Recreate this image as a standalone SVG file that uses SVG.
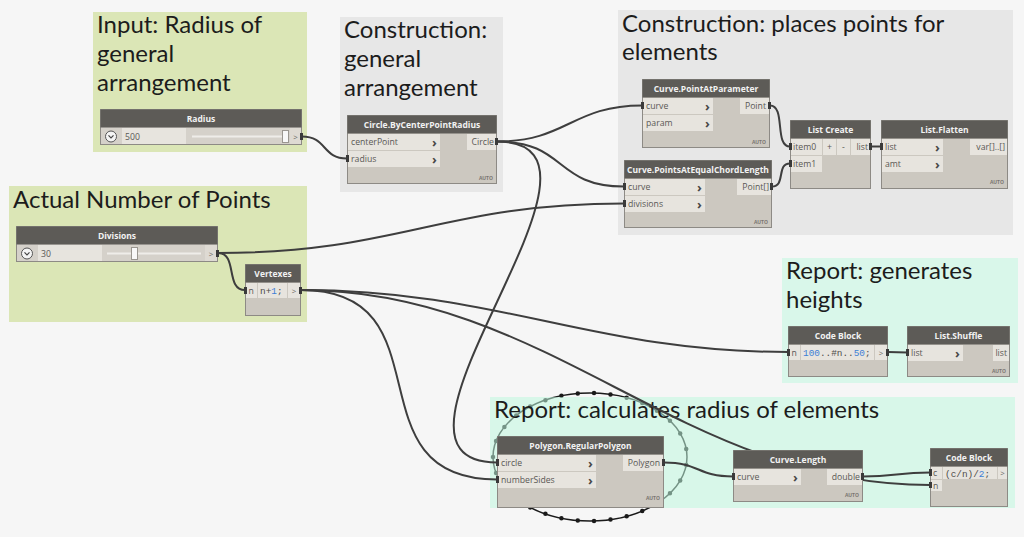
<svg xmlns="http://www.w3.org/2000/svg" width="1024" height="537" viewBox="0 0 1024 537">
<style>
.bg{fill:#f6f6f6}
.gg{fill:#dbe6b6}
.gy{fill:#e7e7e7}
.gm{fill:#d9f7ea}
.gt{font:24px Lato,"Open Sans",sans-serif;fill:#1c1c1c}
.body{fill:#ccc8c0;stroke:#8d8a85;stroke-width:1}
.sbody{fill:#d5d1ca;stroke:#8d8a85;stroke-width:1}
.hdr{fill:#5d5b57}
.ttl{font:bold 8.5px "Open Sans",sans-serif;fill:#f2f2f2;text-anchor:middle}
.port{fill:#e7e4de}
.lbl{font:8.7px "Open Sans",sans-serif;fill:#5a5855}
.end{text-anchor:end}
.chev{font:bold 13px "Open Sans",sans-serif;fill:#4a4846}
.auto{font:bold 5px "Open Sans",sans-serif;fill:#7a7672;text-anchor:end}
.code{font:9.4px "Liberation Mono",monospace;fill:#4e4c4a}
.num{fill:#3d7fd6}
.gtb{font:8px "Open Sans",sans-serif;fill:#6a6864;text-anchor:middle}
.wire{fill:none;stroke:#3e3e3e;stroke-width:2}
.nub{fill:#3a3a3a}
.btn{fill:#f4f4f4;stroke:#555;stroke-width:1}
.ico{fill:none;stroke:#444;stroke-width:1.2}
.track{stroke:#efede9;stroke-width:2}
.thumb{fill:#f8f8f8;stroke:#9a9690;stroke-width:1}
.sbox{fill:#dedad3}
</style>
<rect class="bg" x="0" y="0" width="1024" height="537"/>

<!-- background geometry preview -->
<g id="preview-polygon">
<path d="M493,457 A97,64 0 1,0 687,457 A97,64 0 1,0 493,457 Z" fill="none" stroke="#1a1a1a" stroke-width="1.5"/>
<path d="M493,457 A97,64 0 1,0 687,457 A97,64 0 1,0 493,457 Z" pathLength="31" fill="none" stroke="#1a1a1a" stroke-width="4.5" stroke-linecap="round" stroke-dasharray="0 1"/>
</g>

<!-- groups -->
<g id="group-input-radius">
<rect class="gg" x="93" y="12" width="214" height="140"/>
<text class="gt" x="97" y="33">Input: Radius of</text>
<text class="gt" x="97" y="62">general</text>
<text class="gt" x="97" y="91">arrangement</text>
</g>
<g id="group-construction-general">
<rect class="gy" x="340" y="17" width="163" height="175"/>
<text class="gt" x="344" y="38">Construction:</text>
<text class="gt" x="344" y="67">general</text>
<text class="gt" x="344" y="96">arrangement</text>
</g>
<g id="group-construction-points">
<rect class="gy" x="618" y="10" width="395" height="225"/>
<text class="gt" x="622" y="32">Construction: places points for</text>
<text class="gt" x="622" y="60">elements</text>
</g>
<g id="group-number-points">
<rect class="gg" x="9" y="186" width="298" height="136"/>
<text class="gt" x="13" y="208">Actual Number of Points</text>
</g>
<g id="group-report-heights">
<rect class="gm" x="782" y="258" width="236" height="125"/>
<text class="gt" x="786" y="279">Report: generates</text>
<text class="gt" x="786" y="308">heights</text>
</g>
<g id="group-report-radius">
<rect x="490" y="397" width="525" height="111" fill="#bff8de" fill-opacity="0.55"/>
<text class="gt" x="494" y="418">Report: calculates radius of elements</text>
</g>

<!-- connectors -->
<g id="connectors">
<path class="wire" d="M302,136.5 C327,136.5 322,158.5 347,158.5"/>
<path class="wire" d="M497,141.5 C567,141.5 572,105.5 642,105.5"/>
<path class="wire" d="M497,141.5 C567,141.5 554,186.5 624,186.5"/>
<path class="wire" d="M497,141.5 C647,141.5 347,462.5 497,462.5"/>
<path class="wire" d="M770,105.5 C786,105.5 774,146.5 790,146.5"/>
<path class="wire" d="M772,186.5 C786,186.5 776,163.5 790,163.5"/>
<path class="wire" d="M871,146.5 L881,146.5"/>
<path class="wire" d="M218,253 C400,253 442,203.5 624,203.5"/>
<path class="wire" d="M218,253 C238,253 225,290 245,290"/>
<path class="wire" d="M301,290 C500,290 590,352 788,352"/>
<path class="wire" d="M301,290 C451,290 347,479.5 497,479.5"/>
<path class="wire" d="M301,290 C551,290 680,485 930,485"/>
<path class="wire" d="M888,352 L907,352.5"/>
<path class="wire" d="M664,462.5 C700,462.5 697,476.5 733,476.5"/>
<path class="wire" d="M863,476.5 C896,476.5 897,472.5 930,472.5"/>
</g>

<!-- nodes -->
<g id="radius">
<rect class="sbody" x="100.5" y="109.5" width="201" height="35"/>
<rect class="hdr" x="100.5" y="109.5" width="201" height="18"/>
<text class="ttl" x="201" y="121.5">Radius</text>
<circle class="btn" cx="111" cy="136.5" r="5.5"/>
<polyline class="ico" points="108.5,135.3 111,137.8 113.5,135.3"/>
<rect class="port" x="122" y="128" width="64" height="16"/>
<text class="lbl" x="125" y="139.5" font-style="italic" fill="#333">500</text>
<line class="track" x1="192" y1="136.5" x2="284" y2="136.5"/>
<rect class="thumb" x="282.5" y="130.5" width="6" height="12"/>
<rect class="sbox" x="290" y="128" width="11" height="16"/>
<text class="gtb" x="295.5" y="139.5">&gt;</text>
<rect class="nub" x="300" y="133" width="3" height="7"/>
</g>

<g id="circle-by-center-point-radius">
<rect class="body" x="347.5" y="115.5" width="149" height="68"/>
<rect class="hdr" x="347.5" y="115.5" width="149" height="18"/>
<text class="ttl" x="422" y="127.5">Circle.ByCenterPointRadius</text>
<rect class="port" x="348" y="134" width="92" height="16"/>
<text class="lbl" x="351" y="145">centerPoint</text>
<text class="chev" x="432" y="146.5">›</text>
<rect class="port" x="348" y="151" width="92" height="16"/>
<text class="lbl" x="351" y="162">radius</text>
<text class="chev" x="432" y="163.5">›</text>
<rect class="port" x="467" y="134" width="29" height="16"/>
<text class="lbl end" x="494" y="145">Circle</text>
<text class="auto" x="493" y="180">AUTO</text>
<rect class="nub" x="346" y="155" width="3" height="7"/>
<rect class="nub" x="495" y="138" width="3" height="7"/>
</g>

<g id="curve-point-at-parameter">
<rect class="body" x="642.5" y="79.5" width="127" height="68"/>
<rect class="hdr" x="642.5" y="79.5" width="127" height="18"/>
<text class="ttl" x="706" y="91.5">Curve.PointAtParameter</text>
<rect class="port" x="643" y="98" width="70" height="16"/>
<text class="lbl" x="646" y="109">curve</text>
<text class="chev" x="705" y="110.5">›</text>
<rect class="port" x="643" y="115" width="70" height="16"/>
<text class="lbl" x="646" y="126">param</text>
<text class="chev" x="705" y="127.5">›</text>
<rect class="port" x="740" y="98" width="29" height="16"/>
<text class="lbl end" x="766" y="109">Point</text>
<text class="auto" x="766" y="144">AUTO</text>
<rect class="nub" x="641" y="102" width="3" height="7"/>
<rect class="nub" x="768" y="102" width="3" height="7"/>
</g>

<g id="curve-points-at-equal-chord-length">
<rect class="body" x="624.5" y="160.5" width="147" height="67"/>
<rect class="hdr" x="624.5" y="160.5" width="147" height="18"/>
<text class="ttl" x="698" y="172.5">Curve.PointsAtEqualChordLength</text>
<rect class="port" x="625" y="179" width="80" height="16"/>
<text class="lbl" x="628" y="190">curve</text>
<text class="chev" x="697" y="191.5">›</text>
<rect class="port" x="625" y="196" width="80" height="16"/>
<text class="lbl" x="628" y="207">divisions</text>
<text class="chev" x="697" y="208.5">›</text>
<rect class="port" x="737" y="179" width="34" height="16"/>
<text class="lbl end" x="769" y="190">Point[]</text>
<text class="auto" x="768" y="224">AUTO</text>
<rect class="nub" x="623" y="183" width="3" height="7"/>
<rect class="nub" x="623" y="200" width="3" height="7"/>
<rect class="nub" x="770" y="183" width="3" height="7"/>
</g>

<g id="list-create">
<rect class="body" x="790.5" y="120.5" width="80" height="68"/>
<rect class="hdr" x="790.5" y="120.5" width="80" height="18"/>
<text class="ttl" x="830.5" y="132.5">List Create</text>
<rect class="port" x="791" y="139" width="31" height="16"/>
<text class="lbl" x="793" y="150">item0</text>
<rect class="port" x="823" y="139" width="13" height="16"/>
<text class="lbl" x="829.5" y="149.5" text-anchor="middle" font-weight="bold">+</text>
<rect class="port" x="837" y="139" width="13" height="16"/>
<text class="lbl" x="843.5" y="149.5" text-anchor="middle" font-weight="bold">-</text>
<rect class="port" x="851" y="139" width="19" height="16"/>
<text class="lbl end" x="868" y="150">list</text>
<rect class="port" x="791" y="156" width="31" height="16"/>
<text class="lbl" x="793" y="167">item1</text>
<rect class="nub" x="789" y="143" width="3" height="7"/>
<rect class="nub" x="789" y="160" width="3" height="7"/>
<rect class="nub" x="869" y="143" width="3" height="7"/>
</g>

<g id="list-flatten">
<rect class="body" x="881.5" y="120.5" width="126" height="68"/>
<rect class="hdr" x="881.5" y="120.5" width="126" height="18"/>
<text class="ttl" x="944.5" y="132.5">List.Flatten</text>
<rect class="port" x="882" y="139" width="61" height="16"/>
<text class="lbl" x="885" y="150">list</text>
<text class="chev" x="935" y="151.5">›</text>
<rect class="port" x="882" y="156" width="61" height="16"/>
<text class="lbl" x="885" y="167">amt</text>
<text class="chev" x="935" y="168.5">›</text>
<rect class="port" x="970" y="139" width="37" height="16"/>
<text class="lbl end" x="1005" y="150">var[]..[]</text>
<text class="auto" x="1004" y="184">AUTO</text>
<rect class="nub" x="880" y="143" width="3" height="7"/>
</g>

<g id="divisions">
<rect class="sbody" x="16.5" y="226.5" width="201" height="35"/>
<rect class="hdr" x="16.5" y="226.5" width="201" height="18"/>
<text class="ttl" x="117" y="238.5">Divisions</text>
<circle class="btn" cx="27" cy="253.5" r="5.5"/>
<polyline class="ico" points="24.5,252.3 27,254.8 29.5,252.3"/>
<rect class="port" x="38" y="245" width="64" height="16"/>
<text class="lbl" x="41" y="256.5" fill="#333">30</text>
<line class="track" x1="107" y1="253.5" x2="201" y2="253.5"/>
<rect class="thumb" x="131.5" y="247.5" width="6" height="12"/>
<rect class="sbox" x="205" y="245" width="12" height="16"/>
<text class="gtb" x="211" y="256.5">&gt;</text>
<rect class="nub" x="216" y="250" width="3" height="7"/>
</g>

<g id="vertexes">
<rect class="body" x="245.5" y="264.5" width="55" height="51"/>
<rect class="hdr" x="245.5" y="264.5" width="55" height="18"/>
<text class="ttl" x="273" y="276.5">Vertexes</text>
<rect class="port" x="246" y="283" width="11" height="15"/>
<text class="lbl" x="248.5" y="293.5">n</text>
<rect class="port" x="258" y="283" width="29" height="15"/>
<text class="code" x="260" y="293.5">n+<tspan class="num">1</tspan>;</text>
<rect class="port" x="288" y="283" width="12" height="15"/>
<text class="gtb" x="294" y="293.5">&gt;</text>
<rect class="nub" x="244" y="287" width="3" height="7"/>
<rect class="nub" x="299" y="287" width="3" height="7"/>
</g>

<g id="code-block-heights">
<rect class="body" x="788.5" y="326.5" width="99" height="50"/>
<rect class="hdr" x="788.5" y="326.5" width="99" height="18"/>
<text class="ttl" x="838" y="338.5">Code Block</text>
<rect class="port" x="789" y="345" width="11" height="15"/>
<text class="lbl" x="791.5" y="355.5">n</text>
<rect class="port" x="801" y="345" width="73" height="15"/>
<text class="code" x="803" y="355.5"><tspan class="num">100</tspan>..#n..<tspan class="num">50</tspan>;</text>
<rect class="port" x="875" y="345" width="12" height="15"/>
<text class="gtb" x="881" y="355.5">&gt;</text>
<rect class="nub" x="787" y="349" width="3" height="7"/>
<rect class="nub" x="886" y="349" width="3" height="7"/>
</g>

<g id="list-shuffle">
<rect class="body" x="907.5" y="326.5" width="102" height="50"/>
<rect class="hdr" x="907.5" y="326.5" width="102" height="18"/>
<text class="ttl" x="958.5" y="338.5">List.Shuffle</text>
<rect class="port" x="908" y="345" width="55" height="16"/>
<text class="lbl" x="911" y="356">list</text>
<text class="chev" x="955" y="357.5">›</text>
<rect class="port" x="993" y="345" width="16" height="16"/>
<text class="lbl end" x="1007" y="356">list</text>
<text class="auto" x="1006" y="373">AUTO</text>
<rect class="nub" x="906" y="349" width="3" height="7"/>
</g>

<g id="polygon-regular-polygon">
<rect class="body" x="497.5" y="436.5" width="166" height="71"/>
<rect class="hdr" x="497.5" y="436.5" width="166" height="18"/>
<text class="ttl" x="580.5" y="448.5">Polygon.RegularPolygon</text>
<rect class="port" x="498" y="455" width="98" height="16"/>
<text class="lbl" x="501" y="466">circle</text>
<text class="chev" x="588" y="467.5">›</text>
<rect class="port" x="498" y="472" width="98" height="16"/>
<text class="lbl" x="501" y="483">numberSides</text>
<text class="chev" x="588" y="484.5">›</text>
<rect class="port" x="623" y="455" width="40" height="16"/>
<text class="lbl end" x="660" y="466">Polygon</text>
<text class="auto" x="660" y="500">AUTO</text>
<rect class="nub" x="496" y="459" width="3" height="7"/>
<rect class="nub" x="496" y="476" width="3" height="7"/>
<rect class="nub" x="662" y="459" width="3" height="7"/>
</g>

<g id="curve-length">
<rect class="body" x="733.5" y="450.5" width="129" height="51"/>
<rect class="hdr" x="733.5" y="450.5" width="129" height="18"/>
<text class="ttl" x="798" y="462.5">Curve.Length</text>
<rect class="port" x="734" y="469" width="67" height="16"/>
<text class="lbl" x="737" y="480">curve</text>
<text class="chev" x="793" y="481.5">›</text>
<rect class="port" x="827" y="469" width="35" height="16"/>
<text class="lbl end" x="860" y="480">double</text>
<text class="auto" x="859" y="497">AUTO</text>
<rect class="nub" x="732" y="473" width="3" height="7"/>
<rect class="nub" x="861" y="473" width="3" height="7"/>
</g>

<g id="code-block-radius">
<rect class="body" x="930.5" y="448.5" width="77" height="58"/>
<rect class="hdr" x="930.5" y="448.5" width="77" height="18"/>
<text class="ttl" x="969" y="460.5">Code Block</text>
<rect class="port" x="931" y="467" width="11" height="12"/>
<text class="lbl" x="933" y="476">c</text>
<rect class="port" x="931" y="480" width="11" height="11"/>
<text class="lbl" x="933" y="488.5">n</text>
<rect class="port" x="943" y="467" width="54" height="12"/>
<text class="code" x="945" y="476.5">(c/n)/<tspan class="num">2</tspan>;</text>
<rect class="port" x="998" y="467" width="9" height="12"/>
<text class="gtb" x="1002.5" y="476">&gt;</text>
<rect class="nub" x="929" y="469" width="3" height="7"/>
<rect class="nub" x="929" y="482" width="3" height="6"/>
</g>
</svg>
